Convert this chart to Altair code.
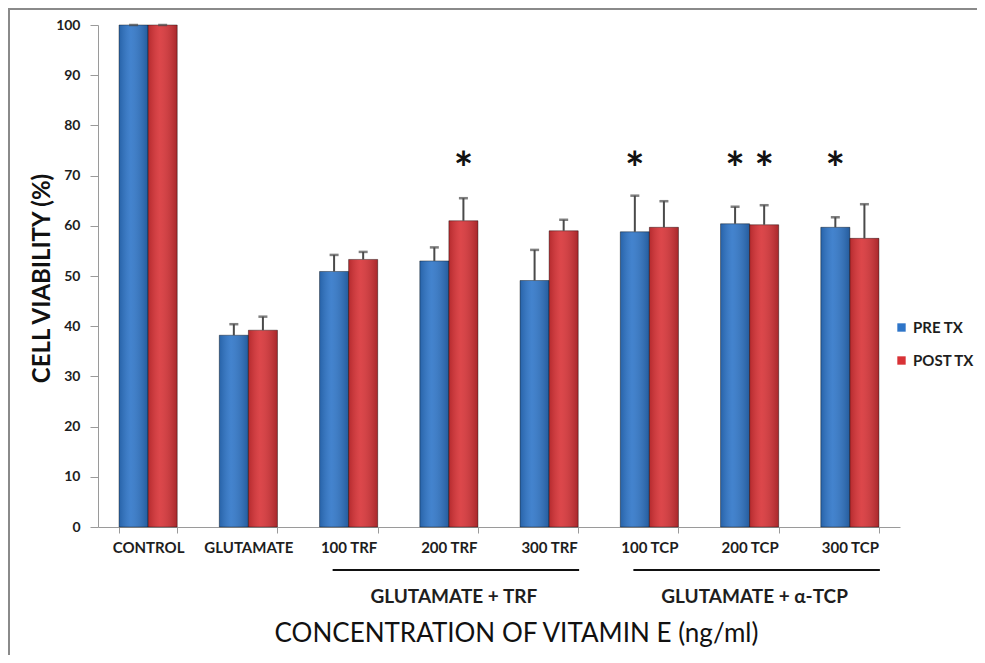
import altair as alt
import pandas as pd

categories = ["CONTROL", "GLUTAMATE", "100 TRF", "200 TRF", "300 TRF",
              "100 TCP", "200 TCP", "300 TCP"]
series = ["PRE TX", "POST TX"]
colors = ["#2E75C8", "#D83236"]
pre_tx = [100, 38.2, 50.9, 53.0, 49.1, 58.8, 60.4, 59.7]
post_tx = [100, 39.2, 53.3, 61.0, 59.0, 59.7, 60.2, 57.5]
pre_err = [0, 2.2, 3.3, 2.7, 6.1, 7.2, 3.4, 2.0]
post_err = [0, 2.7, 1.5, 4.5, 2.2, 5.2, 3.9, 6.8]
y_ticks = [0, 10, 20, 30, 40, 50, 60, 70, 80, 90, 100]

star_categories = ["200 TRF", "100 TCP", "200 TCP", "200 TCP", "300 TCP"]
star_series = ["POST TX", "PRE TX", "PRE TX", "POST TX", "PRE TX"]
star_level = 73

group_labels = ["GLUTAMATE + TRF", "GLUTAMATE + \u03b1-TCP"]
group_start = ["100 TRF", "100 TCP"]
group_end = ["300 TRF", "300 TCP"]
group_mid = ["200 TRF", "200 TCP"]

FONT = "Lato"

rows = []
for i, c in enumerate(categories):
    rows.append({"category": c, "series": series[0], "value": pre_tx[i], "hi": pre_tx[i] + pre_err[i]})
    rows.append({"category": c, "series": series[1], "value": post_tx[i], "hi": post_tx[i] + post_err[i]})
df = pd.DataFrame(rows)
stars = pd.DataFrame({"category": star_categories, "series": star_series})
groups = pd.DataFrame({"label": group_labels, "start": group_start,
                       "end": group_end, "mid": group_mid})

x_scale = alt.Scale(domain=categories, paddingInner=0.42, paddingOuter=0.21)
off_scale = alt.Scale(domain=series)
y_scale = alt.Scale(domain=[0, 100], nice=False)

x_enc = alt.X("category:N", scale=x_scale, sort=categories,
              axis=alt.Axis(title="CONCENTRATION OF VITAMIN E (ng/ml)",
                            labelAngle=0, tickBand="extent", tickSize=6,
                            domainColor="#9a9a9a", tickColor="#9a9a9a",
                            labelFont=FONT, labelFontSize=15, labelFontWeight="bold",
                            labelColor="#1e1e1e", labelPadding=7,
                            titleFont=FONT, titleFontSize=26, titleFontWeight="normal",
                            titleColor="#111111", titleX=418, titleY=106,
                            titleAlign="center", titleBaseline="middle"))
off_enc = alt.XOffset("series:N", scale=off_scale, sort=series)
y_enc = alt.Y("value:Q", scale=y_scale, stack=None,
              axis=alt.Axis(title="CELL VIABILITY (%)", values=y_ticks, grid=False,
                            tickSize=8, domainColor="#9a9a9a", tickColor="#9a9a9a",
                            labelFont=FONT, labelFontSize=14, labelFontWeight="bold",
                            labelColor="#1e1e1e", labelPadding=10,
                            titleFont=FONT, titleFontSize=24, titleFontWeight="bold",
                            titleColor="#111111", titleAngle=270, titleX=-56, titleY=253,
                            titleAlign="center", titleBaseline="middle"))

bars = alt.Chart(df).mark_bar(stroke="rgba(0,0,0,0.4)", strokeWidth=1).encode(
    x=x_enc, xOffset=off_enc, y=y_enc,
    color=alt.Color("series:N", scale=alt.Scale(domain=series, range=colors), sort=series,
                    legend=alt.Legend(orient="none", legendX=796, legendY=295, title=None,
                                      symbolType="square", symbolSize=70, symbolStrokeWidth=0,
                                      labelFont=FONT, labelFontSize=15, labelFontWeight="bold",
                                      labelColor="#1e1e1e", labelOffset=4, rowPadding=17,
                                      padding=0)),
)

shade = alt.LinearGradient(
    gradient="linear", x1=0, x2=1, y1=0, y2=0,
    stops=[alt.GradientStop(offset=0, color="rgba(0,0,0,0.16)"),
           alt.GradientStop(offset=0.4, color="rgba(255,255,255,0.10)"),
           alt.GradientStop(offset=1, color="rgba(0,0,0,0.22)")])
overlay = alt.Chart(df).mark_bar(fill=shade).encode(
    x=alt.X("category:N", scale=x_scale, sort=categories),
    xOffset=off_enc, y=alt.Y("value:Q", scale=y_scale, stack=None))

err_rule = alt.Chart(df).mark_rule(color="#4a4a4a", strokeWidth=2).encode(
    x=alt.X("category:N", scale=x_scale, sort=categories),
    xOffset=off_enc, y=alt.Y("value:Q", scale=y_scale), y2="hi:Q")
err_cap = alt.Chart(df).mark_tick(color="#4a4a4a", thickness=2.5, size=9).encode(
    x=alt.X("category:N", scale=x_scale, sort=categories),
    xOffset=off_enc, y=alt.Y("hi:Q", scale=y_scale))

star_text = alt.Chart(stars).mark_text(text="*", font=FONT, fontSize=46, fontWeight="bold",
                                       color="#111111", baseline="middle", dy=10).encode(
    x=alt.X("category:N", scale=x_scale, sort=categories),
    xOffset=off_enc, y=alt.datum(star_level))

brackets = alt.Chart(groups).mark_rule(color="#111111", strokeWidth=2,
                                       xOffset=-16, x2Offset=30).encode(
    x=alt.X("start:N", scale=x_scale, sort=categories),
    x2="end:N", y=alt.value(545))
group_text = alt.Chart(groups).mark_text(font=FONT, fontSize=19, fontWeight="bold",
                                         color="#1e1e1e", baseline="middle", dx=5).encode(
    x=alt.X("mid:N", scale=x_scale, sort=categories),
    y=alt.value(572), text="label:N")

frame_left = alt.Chart(groups).mark_rule(color="#8a8a8a", strokeWidth=2).encode(
    x=alt.value(-89), y=alt.value(-17), y2=alt.value(630))
frame_top = alt.Chart(groups).mark_rule(color="#8a8a8a", strokeWidth=2).encode(
    x=alt.value(-90), x2=alt.value(879), y=alt.value(-16))

chart = alt.layer(bars, overlay, err_rule, err_cap, star_text, brackets, group_text,
                  frame_left, frame_top).resolve_scale(x="shared").properties(
    width=802, height=502, autosize="none", background="white",
    padding={"left": 90, "top": 17, "right": 77, "bottom": 128},
).configure_view(strokeWidth=0)

chart.save("out.html", embed_options={"renderer": "svg", "actions": False})
